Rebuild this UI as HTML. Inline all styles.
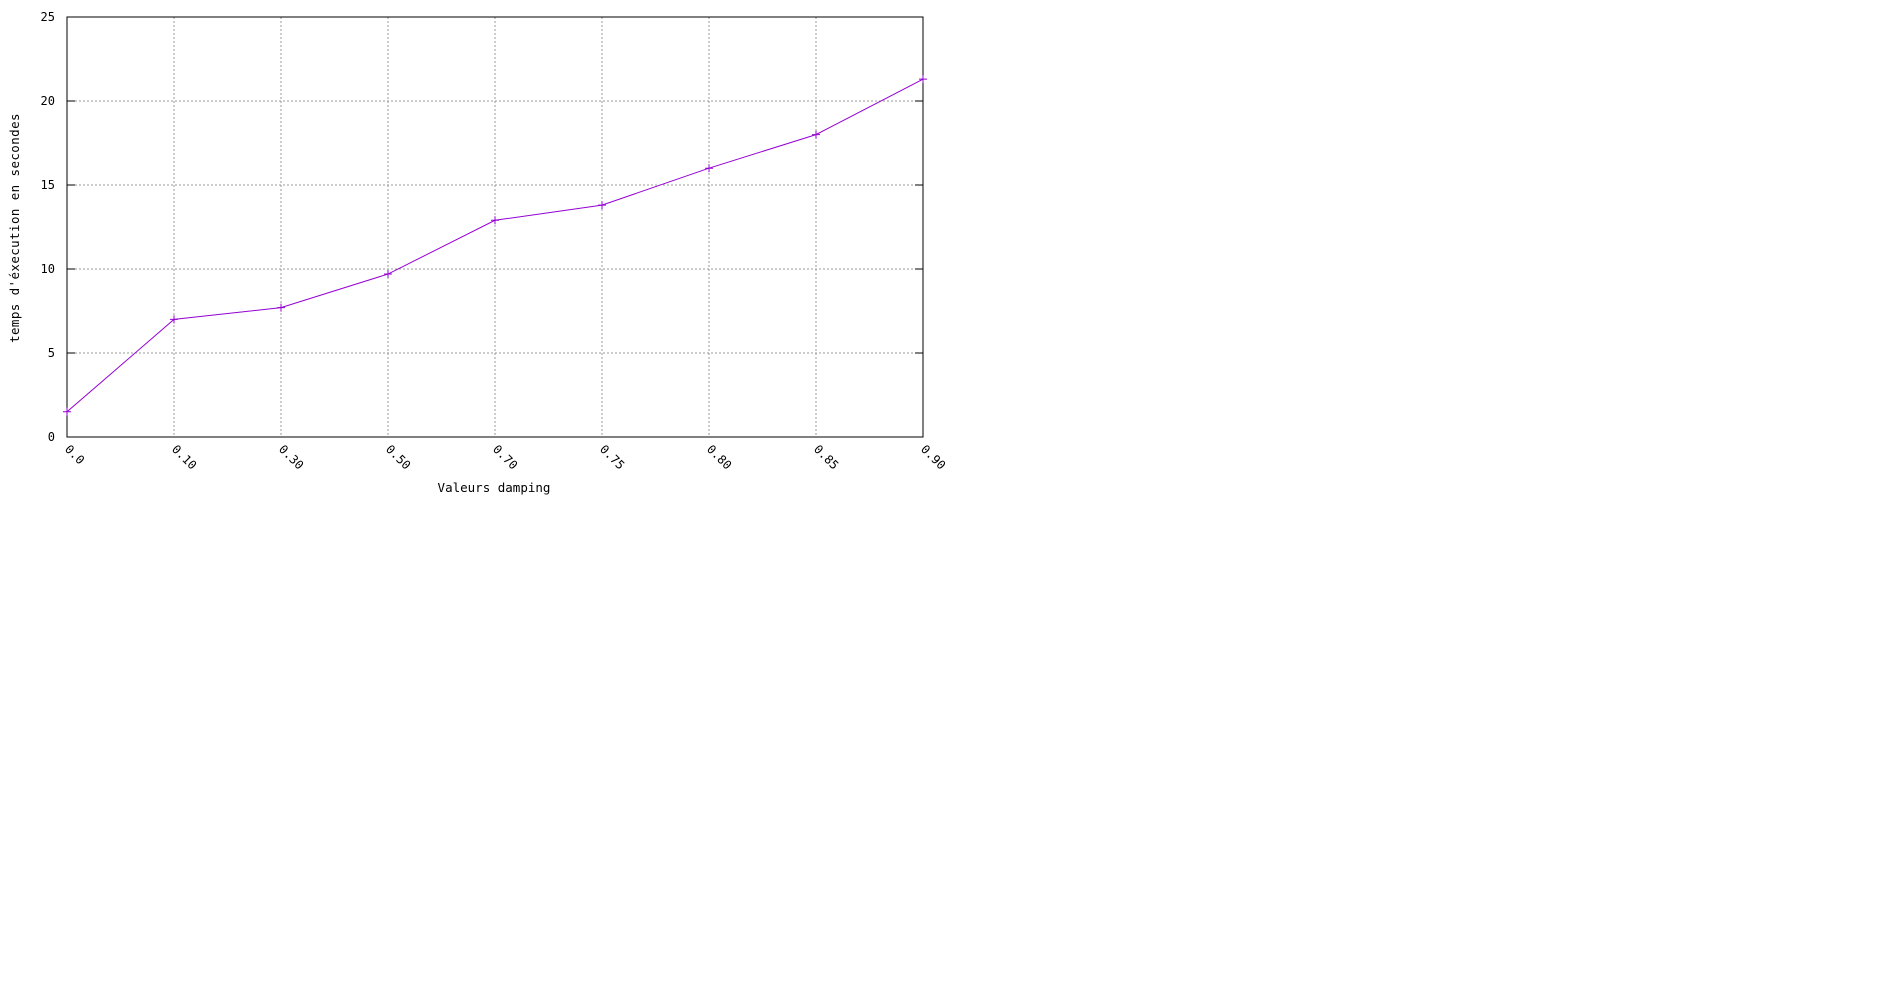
<!DOCTYPE html>
<html><head><meta charset="utf-8"><style>
html,body{margin:0;padding:0;background:#fff;width:1900px;height:1000px;overflow:hidden}
svg text{font-family:"DejaVu Sans Mono","Liberation Mono",monospace;font-size:12px;fill:#000}
svg text.title{font-size:12.5px}
</style></head><body>
<svg id="chart" width="1900" height="1000" xmlns="http://www.w3.org/2000/svg"></svg>
<script>
const categories = ["0.0","0.10","0.30","0.50","0.70","0.75","0.80","0.85","0.90"];
const seriesValues = [1.5, 7.0, 7.7, 9.7, 12.9, 13.8, 16.0, 18.0, 21.3];
const yTicks = [0, 5, 10, 15, 20, 25];
const yMax = 25;

const L = 67, R = 923, T = 17, B = 437;
const NS = "http://www.w3.org/2000/svg";
const svg = document.getElementById('chart');
function xPos(i){ return L + i * (R - L) / (categories.length - 1); }
function yPos(v){ return B - v / yMax * (B - T); }
function mk(tag, attrs, parent){
  const e = document.createElementNS(NS, tag);
  for (const k in attrs) e.setAttribute(k, attrs[k]);
  (parent || svg).appendChild(e);
  return e;
}

const grid = mk('g', {});


yTicks.forEach(v => {
  if (v === 0 || v === yMax) return;
  const l = mk('line', {x1:L, x2:R, y1:yPos(v), y2:yPos(v), stroke:'#999', 'stroke-dasharray':'2,2'}, grid);
  
  
});
categories.forEach((c, i) => {
  if (i === 0 || i === categories.length - 1) return;
  const l = mk('line', {x1:xPos(i), x2:xPos(i), y1:T, y2:B, stroke:'#999', 'stroke-dasharray':'2,2'}, grid);
  
  
});

const frame = mk('rect', {x:L, y:T, width:R-L, height:B-T, fill:'none', stroke:'#000', 'stroke-width':1});



yTicks.forEach(v => {
  const y = yPos(v);
  mk('line', {x1:L, x2:L+8, y1:y, y2:y, stroke:'#000'});
  mk('line', {x1:R-8, x2:R, y1:y, y2:y, stroke:'#000'});
  const t = mk('text', {x:L-12, y:y+4, 'text-anchor':'end'});
  t.textContent = v;
  
  
});

categories.forEach((c, i) => {
  const x = xPos(i);
  const t = mk('text', {x:x, y:451, transform:'rotate(45 '+x+' 447)'});
  t.textContent = c;
  
  
});

const pts = seriesValues.map((v, i) => xPos(i) + ',' + yPos(v)).join(' ');
const line = mk('polyline', {points:pts, fill:'none', stroke:'#9400d3', 'stroke-width':1});


seriesValues.forEach((v, i) => {
  const x = xPos(i), y = yPos(v);
  const p = mk('path', {d:'M'+(x-4)+' '+y+'H'+(x+4)+'M'+x+' '+(y-4)+'V'+(y+4), stroke:'#9400d3', 'stroke-width':1});
  
  
});

const xt = mk('text', {x:494, y:492, 'text-anchor':'middle', 'class':'title'});
xt.textContent = 'Valeurs damping';


const yt = mk('text', {x:0, y:0, 'text-anchor':'middle', 'class':'title', 'letter-spacing':'0.4', transform:'translate(19 228) rotate(-90)'});
yt.textContent = "temps d'éxecution en secondes";


</script>
</body></html>
